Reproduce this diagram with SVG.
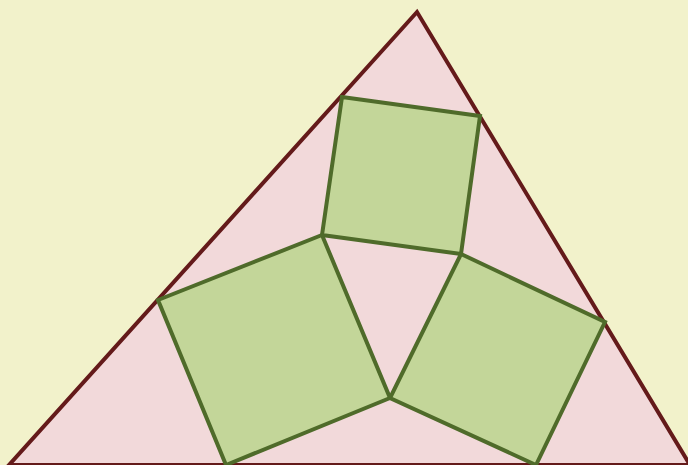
<svg xmlns="http://www.w3.org/2000/svg" width="688" height="465" viewBox="0 0 688 465">
<style>
.tri{fill:#F2D9DA;stroke:#641A1A;stroke-width:4;stroke-linejoin:miter}
.sq{fill:#C3D699;stroke:#4F6B2A;stroke-width:4;stroke-linejoin:miter}
</style>
<rect width="688" height="465" fill="#F2F2CB"/>
<g id="triangle"><polygon class="tri" points="417,12 9,465 690,465"/></g>
<g id="square-top"><polygon class="sq" points="342,97 480,116 461,254 322,235"/></g>
<g id="square-left"><polygon class="sq" points="158,300 322,235 390,398 226,465"/></g>
<g id="square-right"><polygon class="sq" points="461,254 605,322 536,465 390,398"/></g>
</svg>
